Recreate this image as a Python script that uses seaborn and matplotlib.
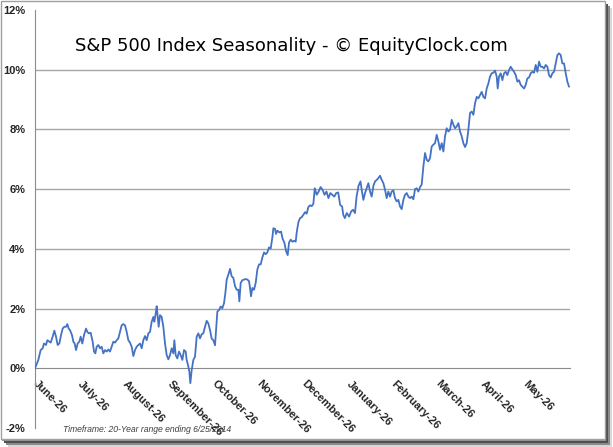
import numpy as np
import pandas as pd
import matplotlib
matplotlib.use("Agg")
import matplotlib.pyplot as plt
import seaborn as sns
from matplotlib.patches import Rectangle

title = "S&P 500 Index Seasonality - \u00a9 EquityClock.com"
footnote = "Timeframe: 20-Year range ending 6/25/2014"
month_labels = ["June-26", "July-26", "August-26", "September-26", "October-26",
                "November-26", "December-26", "January-26", "February-26",
                "March-26", "April-26", "May-26"]
month_start_day = [0, 21, 42, 63, 84, 105, 126, 147, 168, 189, 210, 230]
year_end_day = 251
y_ticks = [-2, 0, 2, 4, 6, 8, 10, 12]
grid_levels = [2, 4, 6, 8, 10]

day = [0, 1.56, 2.66, 3.6, 4.22, 5.16, 5.79, 6.72, 7.35, 8.29, 9.07, 9.85, 10.64, 11.42,
       12.2, 12.98, 13.76, 14.55, 15.17, 15.8, 16.42, 17.36, 17.99, 18.61, 19.24, 20.02,
       20.8, 21.43, 22.21, 22.99, 23.93, 24.56, 25.18, 26.12, 27.06, 27.68, 28.31, 28.93,
       29.72, 30.5, 31.28, 32.06, 32.84, 33.63, 34.41, 35.19, 35.97, 36.75, 37.54, 38.32,
       39.1, 39.88, 40.66, 41.45, 42.23, 43.01, 43.79, 44.57, 45.36, 46.14, 46.92, 47.7,
       48.48, 49.27, 50.05, 50.83, 51.61, 52.39, 53.18, 53.96, 54.74, 55.52, 55.99, 56.62,
       57.09, 57.56, 58.02, 58.65, 59.43, 60.21, 61.0, 61.78, 62.56, 63.34, 64.12, 64.91,
       65.38, 66.0, 66.78, 67.57, 68.35, 69.13, 69.91, 70.69, 71.16, 71.79, 72.41, 72.88,
       73.51, 74.29, 75.07, 75.85, 76.64, 77.42, 78.2, 78.98, 79.76, 80.55, 81.33, 82.11,
       82.9, 83.68, 84.46, 84.93, 85.55, 86.34, 87.12, 87.9, 88.68, 89.31, 89.93, 90.72,
       91.5, 92.28, 93.06, 93.84, 94.63, 95.41, 95.88, 96.5, 97.28, 98.07, 98.85, 99.63,
       100.41, 100.88, 101.35, 101.98, 102.76, 103.54, 104.32, 105.1, 105.89, 106.67,
       107.45, 108.23, 109.01, 109.8, 110.58, 111.36, 111.83, 112.61, 113.08, 113.71,
       114.65, 115.43, 116.21, 116.99, 117.77, 118.56, 119.18, 119.96, 120.75, 121.53,
       122.31, 122.78, 123.56, 124.34, 125.13, 125.91, 126.69, 127.47, 128.25, 129.04,
       129.82, 130.6, 131.24, 132.16, 133.08, 133.99, 134.91, 135.83, 136.74, 137.66,
       138.58, 139.5, 140.41, 141.33, 142.25, 143.16, 144.08, 144.63, 145.37, 146.28,
       147.38, 148.3, 149.22, 150.13, 150.87, 151.78, 152.7, 153.27, 154.05, 154.84,
       155.62, 156.4, 157.18, 157.96, 158.75, 159.53, 160.31, 161.09, 161.87, 162.66,
       163.44, 164.22, 165.0, 165.78, 166.57, 167.35, 168.13, 168.91, 169.69, 170.48,
       171.26, 172.04, 172.82, 173.6, 174.39, 175.17, 175.95, 176.73, 177.51, 178.3,
       179.08, 179.86, 180.64, 181.42, 182.21, 182.99, 183.77, 184.55, 185.33, 186.12,
       186.9, 187.68, 188.46, 189.24, 190.03, 190.81, 191.59, 192.37, 193.15, 193.94,
       194.72, 195.5, 196.28, 197.06, 197.85, 198.63, 199.41, 200.19, 200.97, 201.76,
       202.54, 203.32, 204.1, 204.88, 205.67, 206.45, 207.23, 208.01, 208.79, 209.57,
       210.36, 211.14, 211.92, 212.7, 213.48, 214.27, 215.05, 215.83, 216.61, 217.08,
       217.71, 218.49, 219.27, 220.05, 220.83, 221.62, 222.4, 223.18, 223.96, 224.74,
       225.53, 226.31, 227.09, 227.87, 228.65, 229.44, 230.22, 231.0, 231.78, 232.56,
       233.35, 234.13, 234.91, 235.69, 236.47, 237.26, 238.04, 238.82, 239.6, 240.38,
       241.17, 241.95, 242.73, 243.51, 244.29, 245.08, 245.86, 246.64, 247.42, 248.21,
       248.99, 249.77, 250.55]

pct = [0.0, 0.28, 0.61, 0.67, 0.83, 0.78, 0.94, 0.89, 0.86, 1.06, 1.26, 1.06, 0.78, 0.83,
       1.11, 1.33, 1.39, 1.39, 1.48, 1.33, 1.28, 1.11, 0.89, 0.83, 0.61, 0.83, 0.89, 1.06,
       0.83, 1.11, 1.33, 1.22, 1.17, 1.19, 0.89, 0.56, 0.50, 0.72, 0.78, 0.67, 0.72, 0.50,
       0.61, 0.56, 0.63, 0.56, 0.72, 0.89, 0.86, 0.94, 1.00, 1.22, 1.44, 1.48, 1.44, 1.22,
       0.94, 0.86, 0.72, 0.41, 0.61, 0.72, 0.78, 0.83, 0.67, 0.94, 1.08, 0.94, 1.17, 1.22,
       1.56, 1.72, 1.56, 1.83, 2.08, 1.72, 1.39, 1.78, 1.72, 1.39, 0.83, 0.44, 0.30, 0.44,
       0.67, 0.50, 0.94, 0.44, 0.33, 0.56, 0.44, 0.28, 0.61, 0.56, 0.28, 0.11, -0.11, -0.50,
       -0.06, 0.28, 0.39, 1.06, 1.17, 1.00, 1.14, 1.17, 1.39, 1.59, 1.50, 1.28,
       0.99, 0.94, 0.77, 1.28, 1.90, 1.95, 2.07, 2.01, 2.18, 2.52, 2.97, 3.14,
       3.33, 3.08, 3.03, 2.75, 2.63, 2.63, 2.24, 2.86, 2.95, 2.97, 2.99, 2.97,
       2.92, 2.69, 2.41, 2.69, 2.63, 2.86, 3.31, 3.48, 3.48, 3.71,
       3.88, 3.82, 3.88, 4.05, 4.01, 4.38, 4.69, 4.67, 4.50, 4.61,
       4.55, 4.58, 4.33, 4.21, 3.93, 3.79, 4.21, 4.31, 4.24, 4.27,
       4.24, 4.55, 4.89, 5.03, 5.06, 5.14, 5.23, 5.18, 5.40, 5.46,
       5.43, 5.51, 6.03, 5.81, 5.92, 6.07, 5.98, 5.81, 5.92, 5.70,
       5.87, 5.81, 5.75, 5.87, 5.89, 5.47, 5.42, 5.14, 5.03, 5.20,
       5.08, 5.25, 5.31, 5.20, 5.75, 6.11, 6.26, 5.98, 5.64, 5.87,
       6.03, 6.20, 5.92, 5.75, 6.11, 6.26, 6.31, 6.37, 6.45, 6.31,
       6.20, 5.98, 5.70, 5.92, 5.75, 5.92, 5.96, 5.70, 5.59, 5.64,
       5.42, 5.33, 5.64, 5.81, 5.87, 5.75, 5.70, 5.75, 5.66, 6.00,
       6.03, 5.92, 6.07, 6.15, 6.76, 7.21, 6.98, 6.93, 7.04, 7.43,
       7.49, 7.54, 7.82, 7.60, 7.32, 7.54, 7.26, 7.77, 8.04, 7.93,
       7.99, 8.32, 8.16, 8.04, 8.10, 8.21, 7.93, 7.77, 7.54, 7.41,
       7.54, 7.99, 8.55, 8.60, 8.49, 8.88, 9.09, 9.04, 9.15, 9.26,
       9.09, 9.04, 9.37, 9.54, 9.77, 9.88, 9.90, 9.97, 9.77, 9.37,
       9.77, 9.88, 9.65, 9.88, 9.93, 9.82, 9.99, 10.10, 10.01, 9.93,
       9.82, 9.60, 9.65, 9.49, 9.43, 9.37, 9.49, 9.71, 9.74, 9.88,
       9.93, 9.90, 10.16, 9.93, 10.27, 10.10, 10.10, 10.04, 10.16, 10.10,
       9.82, 9.74, 9.88, 9.93, 10.21, 10.49, 10.55, 10.49, 10.21, 10.21,
       9.88, 9.60, 9.43]

df = pd.DataFrame({"day": day, "pct": pct})

sns.set_style("white")
plt.rcParams["font.family"] = ["Liberation Sans", "DejaVu Sans"]

W, H = 613, 447
fig = plt.figure(figsize=(W / 100, H / 100), dpi=100)
fig.patch.set_facecolor("white")

# picture frame with shadow
for off, col in [(8, "#d8d8d8"), (6, "#8a8a8a"), (4, "#505050"), (2, "#909090")]:
    fig.add_artist(Rectangle((off / W, (H - 439 - off) / H), 604 / W, 439 / H,
                             transform=fig.transFigure, facecolor=col,
                             edgecolor="none", zorder=-20))
fig.add_artist(Rectangle((0.5 / W, (H - 439) / H), 604 / W, 438.5 / H,
                         transform=fig.transFigure, facecolor="white",
                         edgecolor="#a0a0a0", lw=1, zorder=-10))

ax = fig.add_axes([35 / W, (H - 428) / H, 535 / W, 418 / H])
ax.set_facecolor("none")

for g in grid_levels:
    ax.axhline(g, color="#a6a6a6", lw=1.0, zorder=0)

sns.lineplot(data=df, x="day", y="pct", ax=ax, color="#4472C4", lw=1.3, zorder=3)

ax.set_xlim(0, year_end_day)
ax.set_ylim(-2, 12)
ax.set_xlabel("")
ax.set_ylabel("")

for s in ["top", "right"]:
    ax.spines[s].set_visible(False)
ax.spines["left"].set_color("#8c8c8c")
ax.spines["bottom"].set_color("#8c8c8c")
ax.spines["bottom"].set_position(("data", 0))

ax.set_yticks(y_ticks)
ax.set_yticklabels([f"{v}%" for v in y_ticks], fontsize=8, fontweight="bold")
ax.tick_params(axis="y", direction="out", length=4, color="#8c8c8c", pad=3)

ax.set_xticks(month_start_day + [year_end_day])
ax.set_xticklabels(month_labels + [""], rotation=-45, ha="left", va="center",
                   rotation_mode="anchor", fontsize=8, fontweight="bold")
ax.tick_params(axis="x", direction="out", length=4, color="#8c8c8c", pad=6)

fig.text(291 / W, 1 - 46 / H, title, fontsize=13, family="DejaVu Sans",
         ha="center", va="center", color="black")
fig.text(63 / W, 1 - 429 / H, footnote, fontsize=6.2, style="italic",
         ha="left", va="center", color="#404040")

fig.savefig("out.png", dpi=100)
